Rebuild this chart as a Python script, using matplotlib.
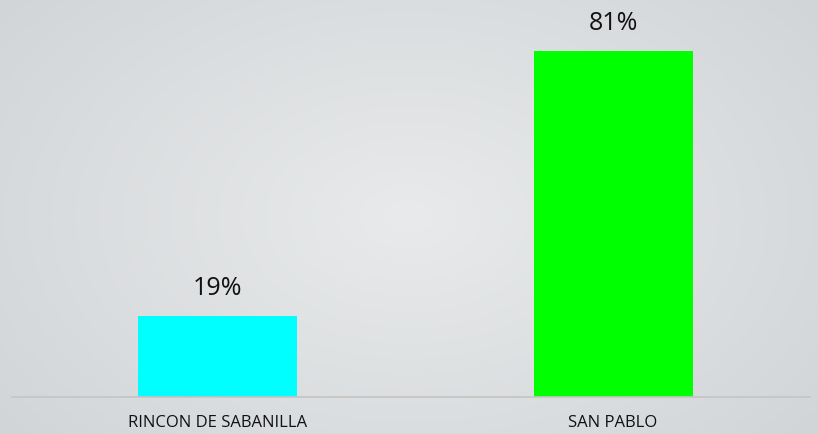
import numpy as np
import matplotlib.pyplot as plt
from matplotlib.colors import LinearSegmentedColormap

categories = ['RINCON DE SABANILLA', 'SAN PABLO']
values = [19, 81]
colors = ['#00ffff', '#00ff00']

fig = plt.figure(figsize=(8.18, 4.34), dpi=100)

# soft grey background gradient
bg = fig.add_axes([0, 0, 1, 1])
yy, xx = np.mgrid[-1:1:200j, -1:1:400j]
r = np.sqrt(xx**2 + (yy * 0.8)**2)
cmap = LinearSegmentedColormap.from_list('bg', ['#e8eaeb', '#d0d3d6'])
bg.imshow(r, cmap=cmap, vmin=0, vmax=1.4, extent=[0, 1, 0, 1], aspect='auto')
bg.axis('off')

W, H = 818, 434
ax = fig.add_axes([12 / W, (H - 397) / H, 798 / W, 397 / H])
ax.patch.set_alpha(0)
x = np.arange(len(categories))
ax.bar(x, values, width=0.402, color=colors)
for xi, v in zip(x, values):
    ax.text(xi, v + 3.5, f'{v}%', ha='center', va='bottom', fontsize=18,
            family='Open Sans', color='#111111')
ax.set_xlim(-0.52, -0.52 + 2.018)
ax.set_ylim(0, 93)
ax.set_xticks(x)
ax.set_xticklabels(categories, fontsize=12, family='Open Sans', color='#111111')
ax.tick_params(axis='x', length=0, pad=13)
ax.set_yticks([])
for s in ['top', 'right', 'left']:
    ax.spines[s].set_visible(False)
ax.spines['bottom'].set_color('#c4c4c4')
ax.spines['bottom'].set_linewidth(1.2)

fig.savefig('out.png', dpi=100)
